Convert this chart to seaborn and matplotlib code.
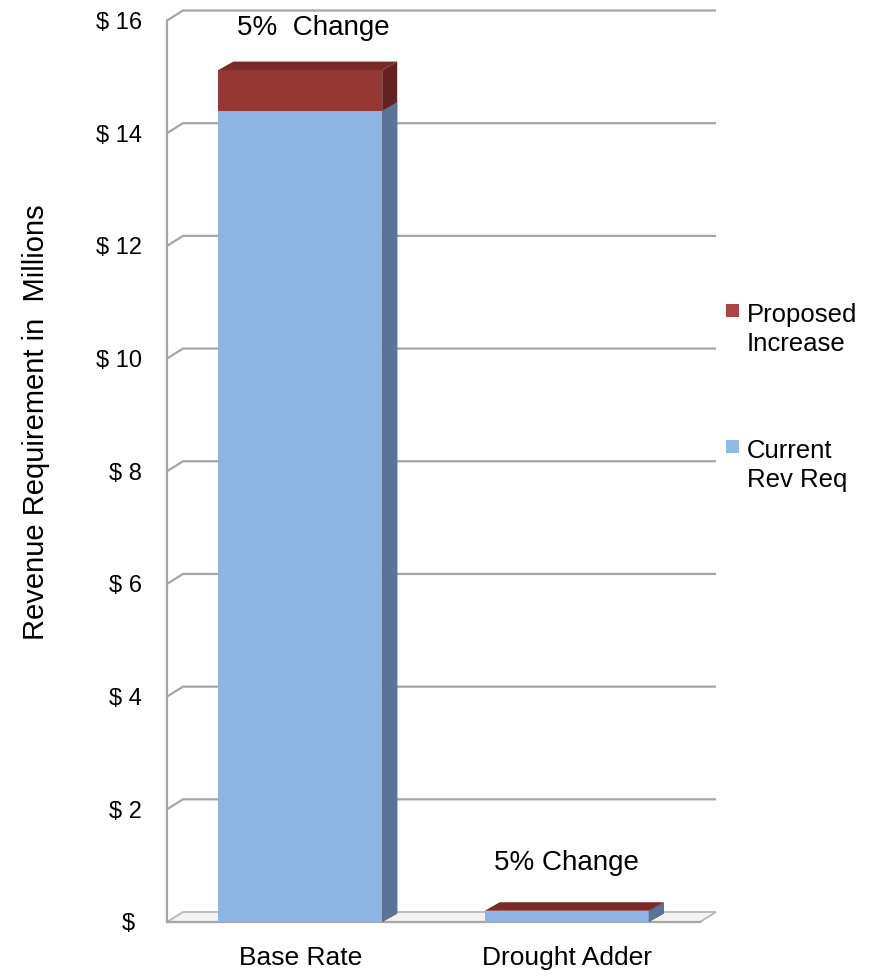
import matplotlib
matplotlib.use("Agg")
import numpy as np
import pandas as pd
import matplotlib.pyplot as plt
from matplotlib.patches import Polygon, Rectangle
import seaborn as sns

# ---- data -------------------------------------------------------------
categories = ["Base Rate", "Drought Adder"]
current_rev_req = [14.40, 0.19]      # $ millions
proposed_increase = [0.72, 0.01]     # $ millions
change_labels = ["5%  Change", "5% Change"]
y_ticks = [0, 2, 4, 6, 8, 10, 12, 14, 16]
y_tick_labels = ["$ " if v == 0 else f"$ {v}" for v in y_ticks]
series_names = ["Proposed\nIncrease", "Current\nRev Req"]

# ---- style ------------------------------------------------------------
BLUE, BLUE_SIDE = "#8eb4e3", "#5a7497"
RED, RED_SIDE, RED_TOP = "#953735", "#632221", "#7a2a29"
LEGEND_COLORS = ["#a94543", "#93b9e7"]
GRID = "#a6a6a6"
INK = "black"

sns.set_style("white")
plt.rcParams["font.family"] = ["Liberation Sans", "DejaVu Sans"]
plt.rcParams["text.color"] = INK
plt.rcParams["axes.labelcolor"] = INK

W, H = 870, 976
fig = plt.figure(figsize=(W / 100, H / 100), dpi=100)
fig.patch.set_facecolor("white")
ax = fig.add_axes([167 / W, 1 - 922 / H, 533 / W, (922 - 20.5) / H])
ax.set_facecolor("none")

df = pd.DataFrame({"category": categories,
                   "current": current_rev_req,
                   "increase": proposed_increase})
df["total"] = df["current"] + df["increase"]

# stacked bars: total (red) underneath, current (blue) on top of it
bar_w = 0.615
sns.barplot(data=df, x="category", y="total", color=RED, saturation=1,
            width=bar_w, errorbar=None, linewidth=0, ax=ax, zorder=3)
n_top = len(ax.patches)
sns.barplot(data=df, x="category", y="current", color=BLUE, saturation=1,
            width=bar_w, errorbar=None, linewidth=0, ax=ax, zorder=4)
bars = list(ax.patches)

ax.set_xlim(-0.5, 1.5)
ax.set_ylim(0, 16)

# depth offsets (pixels -> data units) for the pseudo-3D look
px_x = ax.bbox.width / 2.0
px_y = ax.bbox.height / 16.0
wall_dx, wall_dy = 16 / px_x, 10 / px_y
bar_dx, bar_dy = 15 / px_x, 8.5 / px_y

# floor
floor = Polygon([(-0.5, 0), (1.5, 0), (1.5 + wall_dx, wall_dy), (-0.5 + wall_dx, wall_dy)],
                closed=True, fc="#f3f3f3", ec="#b8b8b8", lw=1.3, zorder=1, clip_on=False)
ax.add_patch(floor)

# back-wall gridlines
for v in y_ticks[1:]:
    ax.plot([-0.5, -0.5 + wall_dx, 1.5 + wall_dx], [v, v + wall_dy, v + wall_dy],
            color=GRID, lw=1.6, zorder=1.5, clip_on=False, solid_capstyle="butt")

# side and top faces of the bars
for k, bar in enumerate(bars):
    x0, w = bar.get_x(), bar.get_width()
    y0, h = bar.get_y(), bar.get_height()
    is_top = k < n_top
    z = bar.get_zorder()
    side = Polygon([(x0 + w, y0), (x0 + w, y0 + h),
                    (x0 + w + bar_dx, y0 + h + bar_dy), (x0 + w + bar_dx, y0 + bar_dy)],
                   closed=True, fc=RED_SIDE if is_top else BLUE_SIDE, ec="none",
                   zorder=z, clip_on=False)
    ax.add_patch(side)
    if is_top:
        yt = y0 + h
        top = Polygon([(x0, yt), (x0 + w, yt), (x0 + w + bar_dx, yt + bar_dy),
                       (x0 + bar_dx, yt + bar_dy)],
                      closed=True, fc=RED_TOP, ec="none", zorder=z, clip_on=False)
        ax.add_patch(top)

# percent-change labels above each stack
label_offsets = [(13, 35), (0, 41)]
for i, (lab, off) in enumerate(zip(change_labels, label_offsets)):
    ax.annotate(lab, xy=(i, df["total"][i]), xytext=off, textcoords="offset pixels",
                ha="center", va="baseline", fontsize=20, color=INK,
                annotation_clip=False)

# axes, ticks
for s in ["top", "right"]:
    ax.spines[s].set_visible(False)
for s in ["left", "bottom"]:
    ax.spines[s].set_color(GRID)
    ax.spines[s].set_linewidth(1.6)
    ax.spines[s].set_zorder(2)

ax.set_yticks(y_ticks, labels=y_tick_labels)
ax.tick_params(axis="y", length=5, width=1.6, color=GRID, pad=13, labelsize=17,
               labelcolor=INK)
ax.set_xticks([-0.5, 0.5, 1.5], labels=["", "", ""])
ax.set_xticks([0, 1], labels=categories, minor=True)
ax.tick_params(axis="x", which="major", length=5, width=1.6, color=GRID)
ax.tick_params(axis="x", which="minor", length=0, pad=17, labelsize=19,
               labelcolor=INK)
ax.set_xlabel("")
ax.set_ylabel("Revenue Requirement in  Millions", fontsize=21, va="center", color=INK)
ax.yaxis.set_label_coords((36 - 167) / 533, (922 - 422) / 901.5)
ax.grid(False)

# legend: square beside the first line of each two-line entry
legend_rows = [322, 458]
for name, color, base in zip(series_names, LEGEND_COLORS, legend_rows):
    fig.patches.append(Rectangle((726 / W, 1 - (base - 5) / H), 13 / W, 13 / H,
                                 transform=fig.transFigure, fc=color, ec="none"))
    for j, line in enumerate(name.split("\n")):
        fig.text(747 / W, 1 - (base + 29 * j) / H, line, fontsize=18.5,
                 ha="left", va="baseline", color=INK)

fig.savefig("out.png", dpi=100, facecolor="white")
